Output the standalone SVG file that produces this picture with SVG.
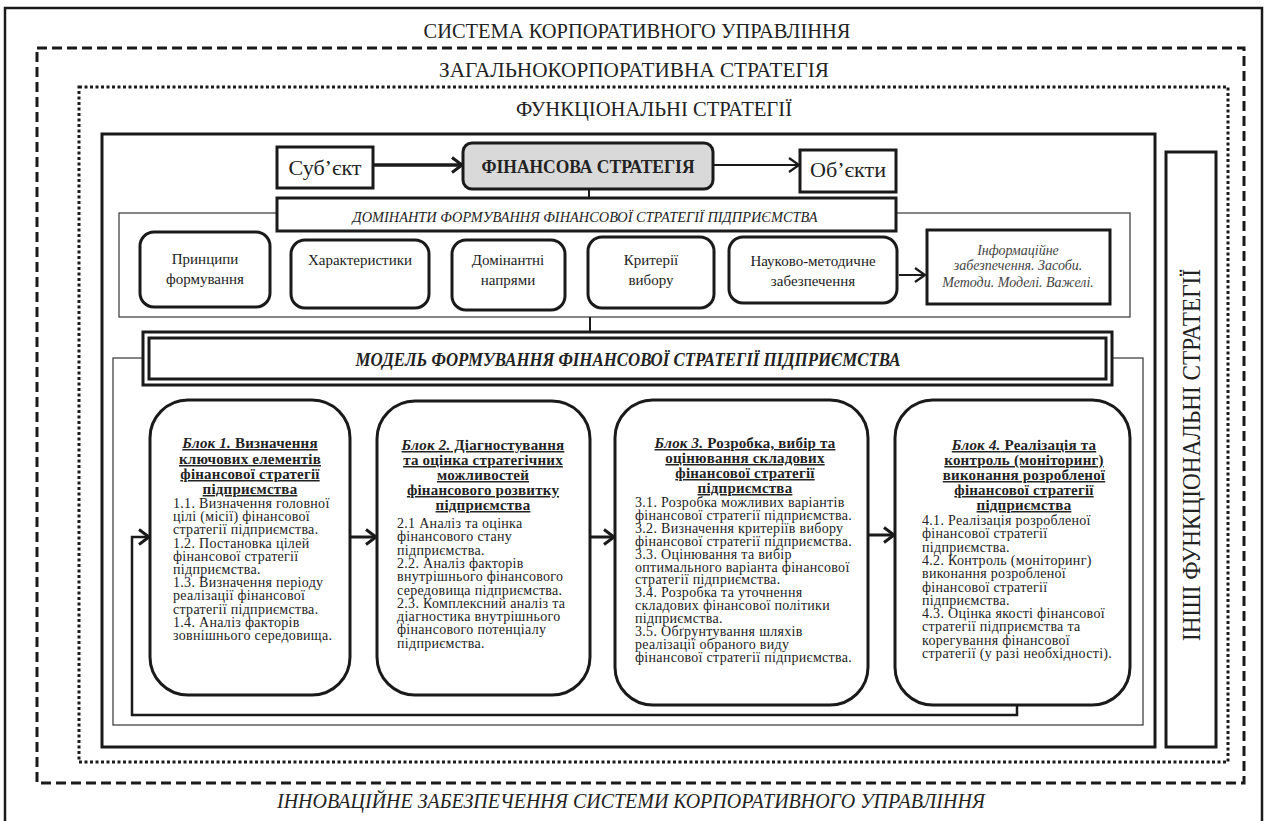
<svg xmlns="http://www.w3.org/2000/svg" width="1266" height="821" viewBox="0 0 1266 821" font-family="'Liberation Serif', 'DejaVu Serif', serif">
<style>
text{font-family:'Liberation Serif','DejaVu Serif',serif;fill:#222}
.frame{fill:none;stroke:#1a1a1a}
.box{fill:#fff;stroke:#1a1a1a;stroke-width:3}
.thin{fill:none;stroke:#444;stroke-width:1.3}
.conn{fill:none;stroke:#1a1a1a}
.hdr{font-size:20px;text-anchor:middle}
.lbl{font-size:15px;text-anchor:middle}
.ttl{font-size:15px;font-weight:bold;text-anchor:middle;text-decoration:underline;letter-spacing:0.2px}
.body{font-size:14px;letter-spacing:0.3px}
.it{font-style:italic}
</style>
<defs>
<marker id="ah" markerUnits="userSpaceOnUse" markerWidth="16" markerHeight="18" refX="13" refY="9" orient="auto"><path d="M3,1.5 L13,9 L3,16.5" fill="none" stroke="#1a1a1a" stroke-width="3"/></marker>
<marker id="ahs" markerUnits="userSpaceOnUse" markerWidth="16" markerHeight="18" refX="13" refY="9" orient="auto"><path d="M3,2 L13,9 L3,16" fill="none" stroke="#1a1a1a" stroke-width="2.2"/></marker>
</defs>
<rect width="1266" height="821" fill="#fff"/>

<g id="frames">
<rect class="frame" x="5" y="8" width="1257" height="830" stroke-width="2.5"/>
<text class="hdr" x="637" y="38" textLength="427" lengthAdjust="spacingAndGlyphs">СИСТЕМА КОРПОРАТИВНОГО УПРАВЛІННЯ</text>
<rect class="frame" x="37" y="48" width="1207" height="735" stroke-width="3" stroke-dasharray="10 5"/>
<text class="hdr" x="634" y="77" textLength="390" lengthAdjust="spacingAndGlyphs">ЗАГАЛЬНОКОРПОРАТИВНА СТРАТЕГІЯ</text>
<rect class="frame" x="79" y="87" width="1149" height="675" stroke-width="3" stroke-dasharray="3 2.5"/>
<text class="hdr" x="654" y="116" textLength="276" lengthAdjust="spacingAndGlyphs">ФУНКЦІОНАЛЬНІ СТРАТЕГІЇ</text>
<rect class="frame" x="102" y="134" width="1053" height="613" stroke-width="3"/>
<text class="hdr it" x="631" y="808" textLength="708" lengthAdjust="spacingAndGlyphs">ІННОВАЦІЙНЕ ЗАБЕЗПЕЧЕННЯ СИСТЕМИ КОРПОРАТИВНОГО УПРАВЛІННЯ</text>
</g>

<g id="other-strategies">
<rect class="box" x="1166" y="152" width="50" height="595"/>
<text transform="translate(1200,455) rotate(-90)" style="font-size:25px;text-anchor:middle" textLength="372" lengthAdjust="spacingAndGlyphs">ІНШІ ФУНКЦІОНАЛЬНІ СТРАТЕГІЇ</text>
</g>

<g id="containers">
<rect class="thin" x="119" y="213" width="1011" height="104"/>
<rect class="thin" x="113" y="358" width="1030" height="367"/>
</g>

<g id="connectors">
<line class="conn" x1="373" y1="165" x2="462" y2="165" stroke-width="3.5" marker-end="url(#ah)"/>
<line class="conn" x1="713" y1="165" x2="799" y2="165" stroke-width="2" marker-end="url(#ahs)"/>
<line class="conn" x1="589" y1="189" x2="589" y2="198" stroke-width="2"/>
<line class="conn" x1="899" y1="275" x2="925" y2="275" stroke-width="2" marker-end="url(#ahs)"/>
<line class="conn" x1="590" y1="317" x2="590" y2="332" stroke-width="2"/>
<line class="conn" x1="350" y1="537" x2="376" y2="537" stroke-width="3" marker-end="url(#ah)"/>
<line class="conn" x1="590" y1="537" x2="614" y2="537" stroke-width="3" marker-end="url(#ah)"/>
<line class="conn" x1="868" y1="535" x2="894" y2="535" stroke-width="3" marker-end="url(#ah)"/>
<path class="conn" d="M1017,705 V715 H132 V537 H149" stroke-width="2.5" marker-end="url(#ah)"/>
</g>

<g id="subject">
<rect class="box" x="277" y="147" width="96" height="41" stroke-width="2"/>
<text x="325" y="175" style="font-size:22px;text-anchor:middle" textLength="73" lengthAdjust="spacingAndGlyphs">Суб’єкт</text>
</g>
<g id="fin-strategy">
<rect x="463" y="143" width="250" height="46" rx="9" fill="#d9d9d9" stroke="#1a1a1a" stroke-width="3"/>
<text x="588" y="173" style="font-size:19px;font-weight:bold;text-anchor:middle" textLength="213" lengthAdjust="spacingAndGlyphs">ФІНАНСОВА СТРАТЕГІЯ</text>
</g>
<g id="objects">
<rect class="box" x="800" y="150" width="96" height="42" stroke-width="2"/>
<text x="848" y="177" style="font-size:22px;text-anchor:middle" textLength="76" lengthAdjust="spacingAndGlyphs">Об’єкти</text>
</g>

<g id="dominants">
<rect class="box" x="277" y="198" width="619" height="33"/>
<text class="it" x="585" y="222" style="font-size:15px;text-anchor:middle" textLength="465" lengthAdjust="spacingAndGlyphs">ДОМІНАНТИ ФОРМУВАННЯ ФІНАНСОВОЇ СТРАТЕГІЇ ПІДПРИЄМСТВА</text>
</g>
<g id="principles">
<rect class="box" x="140" y="232" width="130" height="75" rx="14"/>
<text class="lbl" x="205" y="264">Принципи</text>
<text class="lbl" x="205" y="284">формування</text>
</g>
<g id="characteristics">
<rect class="box" x="291" y="240" width="138" height="68" rx="14"/>
<text class="lbl" x="360" y="265">Характеристики</text>
</g>
<g id="directions">
<rect class="box" x="452" y="240" width="113" height="70" rx="14"/>
<text class="lbl" x="508" y="265">Домінантні</text>
<text class="lbl" x="508" y="285">напрями</text>
</g>
<g id="criteria">
<rect class="box" x="588" y="237" width="126" height="71" rx="14"/>
<text class="lbl" x="651" y="265">Критерії</text>
<text class="lbl" x="651" y="285">вибору</text>
</g>
<g id="methodical">
<rect class="box" x="729" y="237" width="168" height="66" rx="14"/>
<text class="lbl" x="813" y="266">Науково-методичне</text>
<text class="lbl" x="813" y="286">забезпечення</text>
</g>
<g id="info">
<rect class="box" x="927" y="230" width="183" height="74"/>
<text class="it" x="1018" y="255" style="font-size:14px;text-anchor:middle;fill:#444">Інформаційне</text>
<text class="it" x="1018" y="270" style="font-size:14px;text-anchor:middle;fill:#444">забезпечення.  Засоби.</text>
<text class="it" x="1018" y="287" style="font-size:14px;text-anchor:middle;fill:#444">Методи. Моделі. Важелі.</text>
</g>

<g id="model">
<rect class="box" x="143" y="332" width="969" height="53"/>
<rect class="box" x="149" y="338" width="957" height="41"/>
<text x="628" y="366" style="font-size:18px;font-weight:bold;font-style:italic;text-anchor:middle" textLength="545" lengthAdjust="spacingAndGlyphs">МОДЕЛЬ ФОРМУВАННЯ ФІНАНСОВОЇ СТРАТЕГІЇ ПІДПРИЄМСТВА</text>
</g>

<g id="block1">
<rect class="box" x="150" y="400" width="200" height="295" rx="38"/>
<text class="ttl"><tspan x="250" y="448"><tspan class="it">Блок 1.</tspan> Визначення</tspan><tspan x="250" y="464">ключових елементів</tspan><tspan x="250" y="479">фінансової стратегії</tspan><tspan x="250" y="494">підприємства</tspan></text>
<text class="body"><tspan x="173" y="508">1.1. Визначення головної</tspan><tspan x="173" dy="13.2">цілі (місії) фінансової</tspan><tspan x="173" dy="13.2">стратегії підприємства.</tspan><tspan x="173" dy="13.2">1.2. Постановка цілей</tspan><tspan x="173" dy="13.2">фінансової стратегії</tspan><tspan x="173" dy="13.2">підприємства.</tspan><tspan x="173" dy="13.2">1.3. Визначення періоду</tspan><tspan x="173" dy="13.2">реалізації фінансової</tspan><tspan x="173" dy="13.2">стратегії підприємства.</tspan><tspan x="173" dy="13.2">1.4. Аналіз факторів</tspan><tspan x="173" dy="13.2">зовнішнього середовища.</tspan></text>
</g>

<g id="block2">
<rect class="box" x="377" y="401" width="213" height="294" rx="38"/>
<text class="ttl"><tspan x="483" y="450"><tspan class="it">Блок 2.</tspan> Діагностування</tspan><tspan x="483" y="465">та оцінка стратегічних</tspan><tspan x="483" y="480">можливостей</tspan><tspan x="483" y="495">фінансового розвитку</tspan><tspan x="483" y="510">підприємства</tspan></text>
<text class="body"><tspan x="397" y="528">2.1 Аналіз та оцінка</tspan><tspan x="397" dy="13.3">фінансового стану</tspan><tspan x="397" dy="13.3">підприємства.</tspan><tspan x="397" dy="13.3">2.2. Аналіз факторів</tspan><tspan x="397" dy="13.3">внутрішнього фінансового</tspan><tspan x="397" dy="13.3">середовища підприємства.</tspan><tspan x="397" dy="13.3">2.3. Комплексний аналіз та</tspan><tspan x="397" dy="13.3">діагностика внутрішнього</tspan><tspan x="397" dy="13.3">фінансового потенціалу</tspan><tspan x="397" dy="13.3">підприємства.</tspan></text>
</g>

<g id="block3">
<rect class="box" x="615" y="400" width="253" height="305" rx="38"/>
<text class="ttl"><tspan x="745" y="448"><tspan class="it">Блок 3.</tspan> Розробка, вибір та</tspan><tspan x="745" y="463">оцінювання складових</tspan><tspan x="745" y="478">фінансової стратегії</tspan><tspan x="745" y="493">підприємства</tspan></text>
<text class="body"><tspan x="635" y="507">3.1. Розробка можливих варіантів</tspan><tspan x="635" dy="12.9">фінансової стратегії підприємства.</tspan><tspan x="635" dy="12.9">3.2. Визначення критеріїв вибору</tspan><tspan x="635" dy="12.9">фінансової стратегії підприємства.</tspan><tspan x="635" dy="12.9">3.3. Оцінювання та вибір</tspan><tspan x="635" dy="12.9">оптимального варіанта фінансової</tspan><tspan x="635" dy="12.9">стратегії підприємства.</tspan><tspan x="635" dy="12.9">3.4. Розробка та уточнення</tspan><tspan x="635" dy="12.9">складових фінансової політики</tspan><tspan x="635" dy="12.9">підприємства.</tspan><tspan x="635" dy="12.9">3.5. Обґрунтування шляхів</tspan><tspan x="635" dy="12.9">реалізації обраного виду</tspan><tspan x="635" dy="12.9">фінансової стратегії підприємства.</tspan></text>
</g>

<g id="block4">
<rect class="box" x="895" y="400" width="235" height="305" rx="38"/>
<text class="ttl"><tspan x="1024" y="450"><tspan class="it">Блок 4.</tspan> Реалізація та</tspan><tspan x="1024" y="465">контроль (моніторинг)</tspan><tspan x="1024" y="480">виконання розробленої</tspan><tspan x="1024" y="495">фінансової стратегії</tspan><tspan x="1024" y="510">підприємства</tspan></text>
<text class="body"><tspan x="922" y="525">4.1. Реалізація розробленої</tspan><tspan x="922" dy="13.3">фінансової стратегії</tspan><tspan x="922" dy="13.3">підприємства.</tspan><tspan x="922" dy="13.3">4.2. Контроль (моніторинг)</tspan><tspan x="922" dy="13.3">виконання розробленої</tspan><tspan x="922" dy="13.3">фінансової стратегії</tspan><tspan x="922" dy="13.3">підприємства.</tspan><tspan x="922" dy="13.3">4.3. Оцінка якості фінансової</tspan><tspan x="922" dy="13.3">стратегії підприємства та</tspan><tspan x="922" dy="13.3">корегування фінансової</tspan><tspan x="922" dy="13.3">стратегії (у разі необхідності).</tspan></text>
</g>
</svg>
